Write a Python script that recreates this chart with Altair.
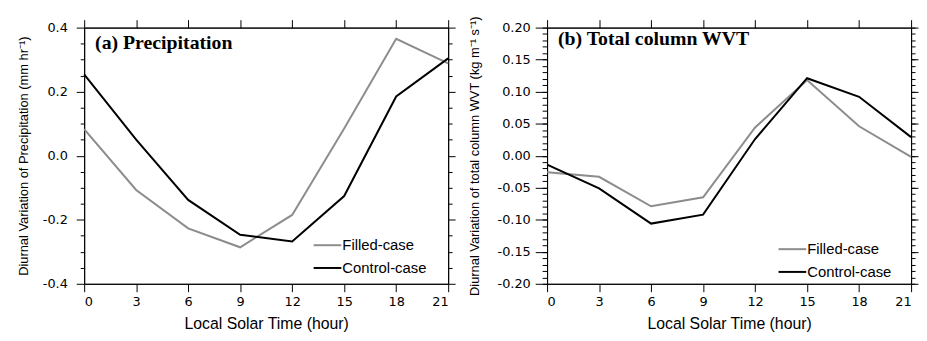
import altair as alt
import pandas as pd

hours = [0, 3, 6, 9, 12, 15, 18, 21]
series = ["Filled-case", "Control-case"]

precip_filled = [0.083, -0.107, -0.227, -0.286, -0.185, 0.085, 0.365, 0.288]
precip_control = [0.254, 0.050, -0.138, -0.247, -0.268, -0.126, 0.185, 0.304]
wvt_filled = [-0.026, -0.033, -0.079, -0.065, 0.044, 0.118, 0.046, -0.002]
wvt_control = [-0.014, -0.051, -0.106, -0.092, 0.026, 0.121, 0.092, 0.029]

x_ticks = [0, 3, 6, 9, 12, 15, 18, 21]
precip_major = [-0.4, -0.2, 0.0, 0.2, 0.4]
precip_minor = [-0.35, -0.3, -0.25, -0.15, -0.1, -0.05, 0.05, 0.1, 0.15, 0.25, 0.3, 0.35]
wvt_major = [-0.2, -0.15, -0.1, -0.05, 0.0, 0.05, 0.1, 0.15, 0.2]
wvt_minor = [round(-0.2 + 0.01 * i, 2) for i in range(41)]

LINE_COLORS = ["#8c8c8c", "#000000"]
SANS = "Liberation Sans"
TICKFONT = "DejaVu Sans"


def panel(filled, control, title, ytitle, ydomain, major, minor, fmt, width, height,
          legx, legy, ytick, yminor, ylabpad, ytitlepad):
    df = pd.DataFrame({
        "hour": hours * 2,
        "value": filled + control,
        "case": [series[0]] * len(hours) + [series[1]] * len(hours),
    })
    base = alt.Chart(df)
    xs = alt.Scale(domain=[0, 21], nice=False, zero=False)
    ys = alt.Scale(domain=ydomain, nice=False, zero=False)
    lab = f"(datum.value < -0.0001 ? '-' : '') + format(abs(datum.value), '{fmt}')"
    common = dict(domainColor="black", tickColor="black", grid=False, labelColor="black",
                  titleColor="black", labelFont=TICKFONT, titleFont=SANS, domainWidth=1, tickWidth=1)

    lines = base.mark_line(strokeWidth=2).encode(
        x=alt.X("hour:Q", scale=xs, axis=alt.Axis(
            orient="bottom", values=x_ticks, title="Local Solar Time (hour)", tickSize=8,
            labelFontSize=13, titleFontSize=16, titleFontWeight="normal", labelPadding=4,
            titlePadding=7, **common)),
        y=alt.Y("value:Q", scale=ys, axis=alt.Axis(
            orient="left", values=major, labelExpr=lab, title=ytitle, tickSize=ytick,
            labelFontSize=13, titleFontSize=13, titleFontWeight="normal", labelPadding=ylabpad,
            titlePadding=ytitlepad, **common)),
        color=alt.Color("case:N", scale=alt.Scale(domain=series, range=LINE_COLORS),
                        legend=alt.Legend(orient="none", legendX=legx, legendY=legy, title=None,
                                          symbolType="stroke", symbolStrokeWidth=2, symbolSize=784,
                                          labelFontSize=15, labelFont=SANS, labelColor="black",
                                          labelOffset=0, rowPadding=0)),
    )
    frame = base.mark_line(opacity=0).encode(
        x=alt.X("hour:Q", scale=xs, axis=alt.Axis(orient="top", values=x_ticks, labels=False,
                                                  title=None, tickSize=8, **common)),
        y=alt.Y("value:Q", scale=ys, axis=alt.Axis(orient="right", values=major, labels=False,
                                                   title=None, tickSize=7, **common)),
        detail="case:N",
    )
    minor_l = base.mark_line(opacity=0).encode(
        x=alt.X("hour:Q", scale=xs, axis=None),
        y=alt.Y("value:Q", scale=ys, axis=alt.Axis(orient="left", values=minor, labels=False,
                                                   title=None, tickSize=yminor, domain=False, **common)),
        detail="case:N",
    )
    minor_r = base.mark_line(opacity=0).encode(
        x=alt.X("hour:Q", scale=xs, axis=None),
        y=alt.Y("value:Q", scale=ys, axis=alt.Axis(orient="right", values=minor, labels=False,
                                                   title=None, tickSize=4, domain=False, **common)),
        detail="case:N",
    )
    return alt.layer(lines, frame, minor_l, minor_r).resolve_axis(
        x="independent", y="independent"
    ).properties(
        width=width, height=height,
        title=alt.TitleParams(title, anchor="start", frame="group", orient="top", offset=-34,
                              dx=11, font="Liberation Serif", fontSize=20, fontWeight="bold",
                              color="black"),
    )


pa = panel(precip_filled, precip_control, "(a) Precipitation",
           "Diurnal Variation of Precipitation (mm hr⁻¹)", [-0.4, 0.4],
           precip_major, precip_minor, ".1f", 368, 259, 231, 205, 8, 4, 9, 12)
pb = panel(wvt_filled, wvt_control, "(b) Total column WVT",
           "Diurnal Variation of total column WVT (kg m⁻¹ s⁻¹)", [-0.2, 0.2],
           wvt_major, wvt_minor, ".2f", 368, 259, 233, 209, 12, 5, 5, 16)

chart = alt.hconcat(pa, pb, spacing=11).resolve_scale(
    color="independent"
).properties(
    padding={"left": 9, "top": 5, "right": 0, "bottom": 5}
).configure_view(stroke="black", strokeWidth=1)

chart.save("out.html", embed_options={"renderer": "svg", "actions": False})
